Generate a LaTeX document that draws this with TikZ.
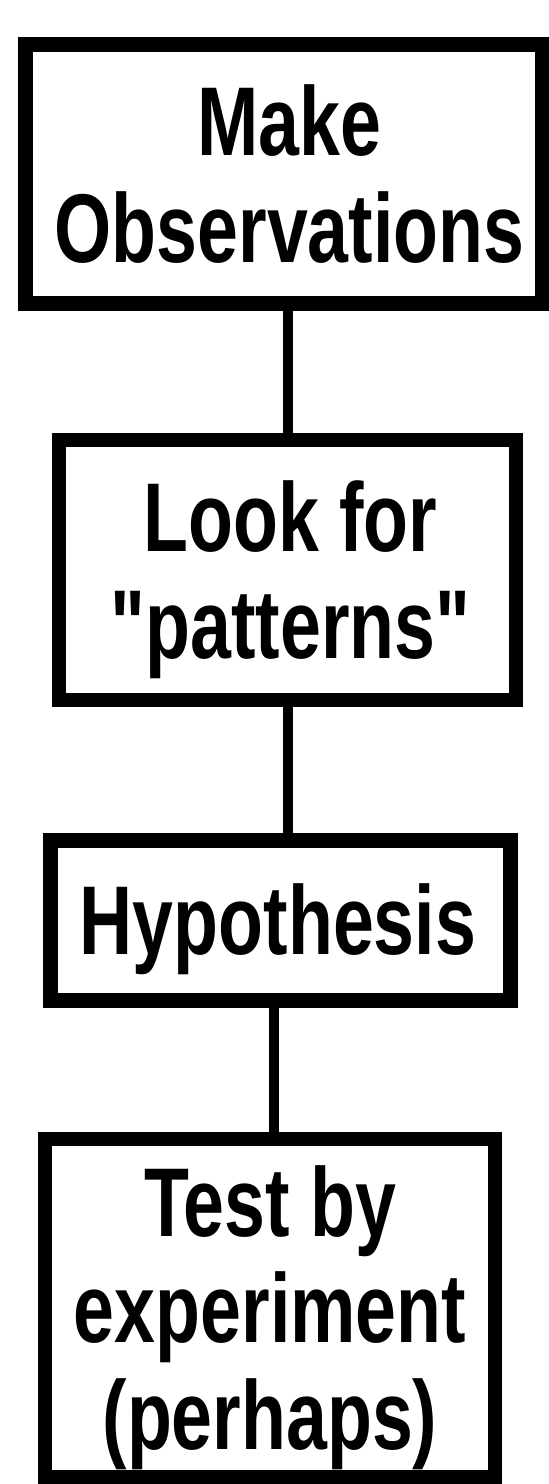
\documentclass[tikz,border=0pt]{standalone}
\usepackage{fontspec}
\usepackage{graphicx}
\setmainfont{Liberation Sans}
\newcommand{\talltext}[1]{\scalebox{1}[1.33]{\fontsize{73.5}{80}\selectfont\bfseries\begin{tabular}{@{}c@{}}#1\end{tabular}}}
\begin{document}
\begin{tikzpicture}[x=1pt,y=-1pt,
  stepbox/.style={draw=black,rectangle,inner sep=0pt,fill=none},
  label text/.style={inner sep=0pt},
  conn/.style={draw=black,line width=10pt}]
\useasboundingbox[fill=white] (0,0) rectangle (549,1484);
% boxes
\node[stepbox,line width=15pt,minimum width=517pt,minimum height=259pt] (b1) at (283.5,174) {};
\node[stepbox,line width=14pt,minimum width=457pt,minimum height=260pt] (b2) at (287.5,570) {};
\node[stepbox,line width=15pt,minimum width=460pt,minimum height=160pt] (b3) at (280,920) {};
\node[stepbox,line width=14pt,minimum width=450pt,minimum height=338pt] (b4) at (270,1308) {};
% texts
\node[label text] (t1) at ([xshift=6pt,yshift=-13.7pt]b1.center) {\talltext{Make\\Observations}};
\node[label text] (t2) at ([xshift=3pt,yshift=-13.7pt]b2.center) {\talltext{Look for\\\textquotedbl patterns\textquotedbl}};
\node[label text] (t3) at ([xshift=-2pt,yshift=-13.7pt]b3.center) {\talltext{Hypothesis}};
\node[label text] (t4) at ([yshift=-13.7pt]b4.center) {\talltext{Test by\\experiment\\(perhaps)}};
% connectors
\draw[conn] (b2.north |- b1.south) -- (b2.north);
\draw[conn] (b2.south) -- (b2.south |- b3.north);
\draw[conn] ([xshift=4pt]b4.north |- b3.south) -- ([xshift=4pt]b4.north);
\end{tikzpicture}
\end{document}
